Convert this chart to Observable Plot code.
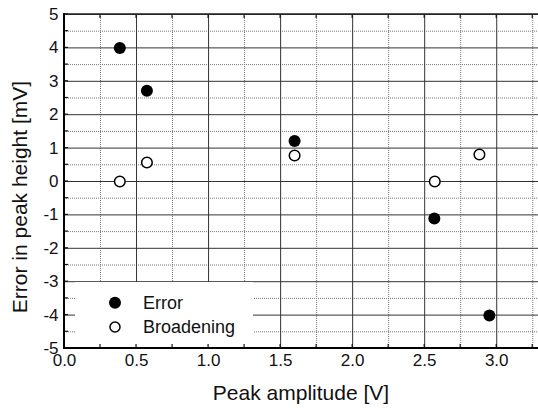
<!DOCTYPE html>
<html><head><meta charset="utf-8">
<script src="https://cdn.jsdelivr.net/npm/d3@7"></script>
<script src="https://cdn.jsdelivr.net/npm/@observablehq/plot@0.6"></script>
<style>body{margin:0;background:#fff} svg{display:block}</style>
</head><body><div id="chart"></div>
<script>
const errorX = [0.384, 0.572, 1.597, 2.567, 2.949];
const errorY = [4.0, 2.72, 1.21, -1.11, -4.01];
const broadX = [0.384, 0.572, 1.597, 2.570, 2.880];
const broadY = [0.0, 0.57, 0.78, 0.0, 0.81];
const xMajor = [0, 0.5, 1.0, 1.5, 2.0, 2.5, 3.0];
const xMinor = [0.25, 0.75, 1.25, 1.75, 2.25, 2.75, 3.25];
const yMajor = [-5, -4, -3, -2, -1, 0, 1, 2, 3, 4, 5];
const yMinor = [-4.5, -3.5, -2.5, -1.5, -0.5, 0.5, 1.5, 2.5, 3.5, 4.5];
const xTickLabels = ["0.0", "0.5", "1.0", "1.5", "2.0", "2.5", "3.0"];
const yTickLabels = ["-5", "-4", "-3", "-2", "-1", "0", "1", "2", "3", "4", "5"];
const legendLabels = ["Error", "Broadening"];
const xTitle = "Peak amplitude [V]";
const yTitle = "Error in peak height [mV]";

(function () {
const FONT = "'Liberation Sans', Arial, sans-serif";
const errorData = errorX.map((x, i) => ({x, y: errorY[i]}));
const broadData = broadX.map((x, i) => ({x, y: broadY[i]}));

const chart = Plot.plot({
  width: 538, height: 410,
  marginLeft: 64, marginRight: 0, marginTop: 14, marginBottom: 62,
  style: {fontFamily: FONT, background: "#fff", overflow: "visible"},
  x: {domain: [0, 3.29], axis: null},
  y: {domain: [-5, 5], axis: null},
  marks: [
    Plot.ruleX(xMinor, {x: d => d, stroke: "#777", strokeWidth: 1, strokeDasharray: "1,1"}),
    Plot.ruleY(yMinor, {y: d => d, stroke: "#777", strokeWidth: 1, strokeDasharray: "1,1"}),
    Plot.ruleX(xMajor.filter(d => d > 0), {x: d => d, stroke: "#333", strokeWidth: 1}),
    Plot.ruleY(yMajor, {y: d => d, stroke: "#333", strokeWidth: 1}),
    Plot.dot(errorData, {x: "x", y: "y", r: 6, fill: "black", stroke: "none"}),
    Plot.dot(broadData, {x: "x", y: "y", r: 5.3, fill: "white", stroke: "black", strokeWidth: 1.5}),
    Plot.text(xMajor, {x: d => d, text: (d, i) => xTickLabels[i], frameAnchor: "bottom", dy: 17, fontSize: 17, fill: "#111"}),
    Plot.text(yMajor, {y: d => d, text: (d, i) => yTickLabels[i], frameAnchor: "left", dx: -6, textAnchor: "end", fontSize: 17, fill: "#111"})
  ]
});
document.getElementById("chart").appendChild(chart);

const sx = chart.scale("x"), sy = chart.scale("y");
const svg = d3.select(chart);
const X = v => sx.apply(v), Y = v => sy.apply(v);
const pLeft = X(0), pRight = 538, pTop = Y(5), pBottom = Y(-5);

const lg = svg.append("g");
lg.append("rect").attr("x", 75).attr("y", 282).attr("width", 178).attr("height", pBottom - 282).attr("fill", "white");
lg.append("circle").attr("cx", 115).attr("cy", 302.7).attr("r", 6).attr("fill", "black");
lg.append("circle").attr("cx", 115).attr("cy", 327).attr("r", 5).attr("fill", "white").attr("stroke", "black").attr("stroke-width", 1.5);
[309, 333.3].forEach((yy, i) => {
  lg.append("text").attr("x", 143).attr("y", yy).attr("text-anchor", "start").attr("font-size", 18)
    .attr("font-family", FONT).attr("fill", "#111").text(legendLabels[i]);
});

const tk = svg.append("g").attr("stroke", "#111").attr("stroke-width", 1.2);
[...xMajor, ...xMinor].forEach(v => {
  tk.append("line").attr("x1", X(v)).attr("x2", X(v)).attr("y1", pBottom).attr("y2", pBottom - 4);
  tk.append("line").attr("x1", X(v)).attr("x2", X(v)).attr("y1", pTop).attr("y2", pTop + 4);
});
[...yMajor, ...yMinor].forEach(v => {
  tk.append("line").attr("x1", pLeft).attr("x2", pLeft + 4).attr("y1", Y(v)).attr("y2", Y(v));
});
tk.append("line").attr("x1", pLeft).attr("x2", pRight).attr("y1", pTop).attr("y2", pTop).attr("stroke", "#222").attr("stroke-width", 1.5);
tk.append("line").attr("x1", pLeft).attr("x2", pLeft).attr("y1", pTop - 1).attr("y2", pBottom + 1).attr("stroke", "black").attr("stroke-width", 2);
tk.append("line").attr("x1", pLeft).attr("x2", pRight).attr("y1", pBottom).attr("y2", pBottom).attr("stroke", "black").attr("stroke-width", 2);

svg.append("text").attr("x", (pLeft + pRight) / 2).attr("y", 400).attr("text-anchor", "middle")
  .attr("font-size", 21).attr("font-family", FONT).attr("fill", "#111").text(xTitle);
svg.append("text").attr("transform", "translate(27,197) rotate(-90)").attr("text-anchor", "middle")
  .attr("font-size", 21).attr("font-family", FONT).attr("fill", "#111").text(yTitle);
})();
</script></body></html>
